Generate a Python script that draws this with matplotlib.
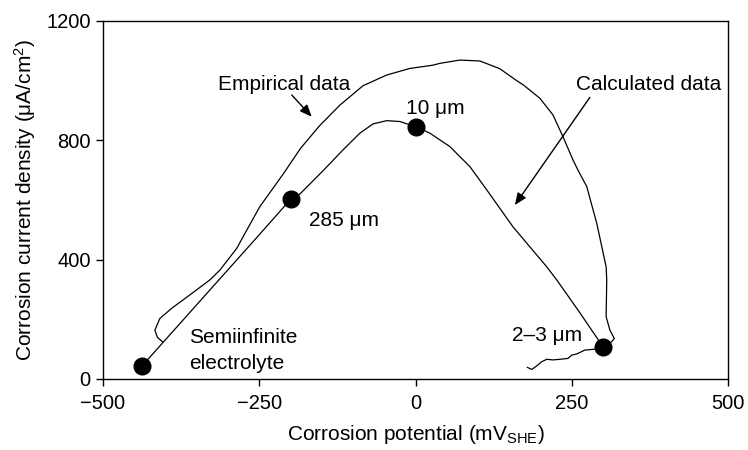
import numpy as np
import matplotlib.pyplot as plt

plt.rcParams['font.family'] = ['Liberation Sans', 'DejaVu Sans']
plt.rcParams['mathtext.fontset'] = 'custom'
plt.rcParams['mathtext.rm'] = 'Liberation Sans'
plt.rcParams['mathtext.it'] = 'Liberation Sans:italic'

# calculated curve (film thickness markers on it)
calc_x = [-437, -243, -200, -185, -147, -116, -89, -68, -46, -25, 0,
          23, 55, 87, 114, 156, 210, 226, 260, 300]
calc_y = [45, 500, 602, 620, 700, 768, 824, 855, 866, 863, 846,
          824, 779, 712, 634, 510, 376, 332, 231, 108]

# empirical curve
emp_x = [-405, -413, -417, -409, -390, -361, -329, -313, -286, -270, -249, -211,
         -184, -153, -121, -84, -46, -9, 28, 39, 71, 103, 135, 162, 173, 199,
         220, 236, 252, 260, 274, 290, 305, 306, 305, 311, 318, 314, 303, 287,
         271, 258, 250, 244, 231, 220, 210, 202, 194, 186, 179]
emp_y = [125, 140, 164, 203, 237, 282, 332, 365, 438, 499, 578, 689,
         773, 850, 918, 983, 1019, 1041, 1052, 1058, 1069, 1066, 1040, 1000, 985, 941,
         885, 812, 734, 700, 645, 522, 376, 332, 209, 164, 136, 125, 110, 100,
         97, 84, 80, 69, 66, 64, 66, 58, 44, 32, 39]

# marked points
pt_x = [-437, -200, 0, 300]
pt_y = [45, 602, 846, 108]
pt_labels = ['Semiinfinite\nelectrolyte', '285 \u03bcm', '10 \u03bcm', '2\u20133 \u03bcm']
pt_label_pos = [(-362, 120), (-171, 513), (-16, 887), (155, 127)]

fig = plt.figure(figsize=(7.48, 4.5), dpi=100)
ax = fig.add_axes([103 / 748, 1 - 379 / 450, 625 / 748, 358 / 450])

ax.plot(calc_x, calc_y, color='black', lw=0.9)
ax.plot(emp_x, emp_y, color='black', lw=0.9)
ax.plot(pt_x, pt_y, 'o', color='black', markersize=12, zorder=5)

for lab, (tx, ty) in zip(pt_labels, pt_label_pos):
    lines = lab.split('\n')
    for i, line in enumerate(lines):
        ax.text(tx, ty - i * 87, line, fontsize=15, ha='left', va='baseline')

arrow = dict(arrowstyle='-|>,head_length=0.6,head_width=0.25', color='black',
             lw=1.0, shrinkA=0, shrinkB=0, mutation_scale=12)
ax.text(-316, 969, 'Empirical data', fontsize=15, ha='left', va='baseline')
ax.annotate('', xy=(-166, 879), xytext=(-198, 952), arrowprops=arrow)
ax.text(256, 969, 'Calculated data', fontsize=15, ha='left', va='baseline')
ax.annotate('', xy=(159, 583), xytext=(279, 944), arrowprops=arrow)

ax.set_xlim(-500, 500)
ax.set_ylim(0, 1200)
ax.set_xticks([-500, -250, 0, 250, 500])
ax.set_xticklabels(['\u2212500', '\u2212250', '0', '250', '500'])
ax.set_yticks([0, 400, 800, 1200])
ax.tick_params(direction='out', length=5, width=1, labelsize=14.5, pad=4)
ax.tick_params(axis='x', pad=6)
for s in ax.spines.values():
    s.set_linewidth(1.0)

ax.set_xlabel('Corrosion potential (mV$_{\\mathrm{SHE}}$)', fontsize=15, labelpad=7)
ax.set_ylabel('Corrosion current density (\u03bcA/cm$^{2}$)', fontsize=15, labelpad=6)

fig.savefig('out.png', dpi=100)
